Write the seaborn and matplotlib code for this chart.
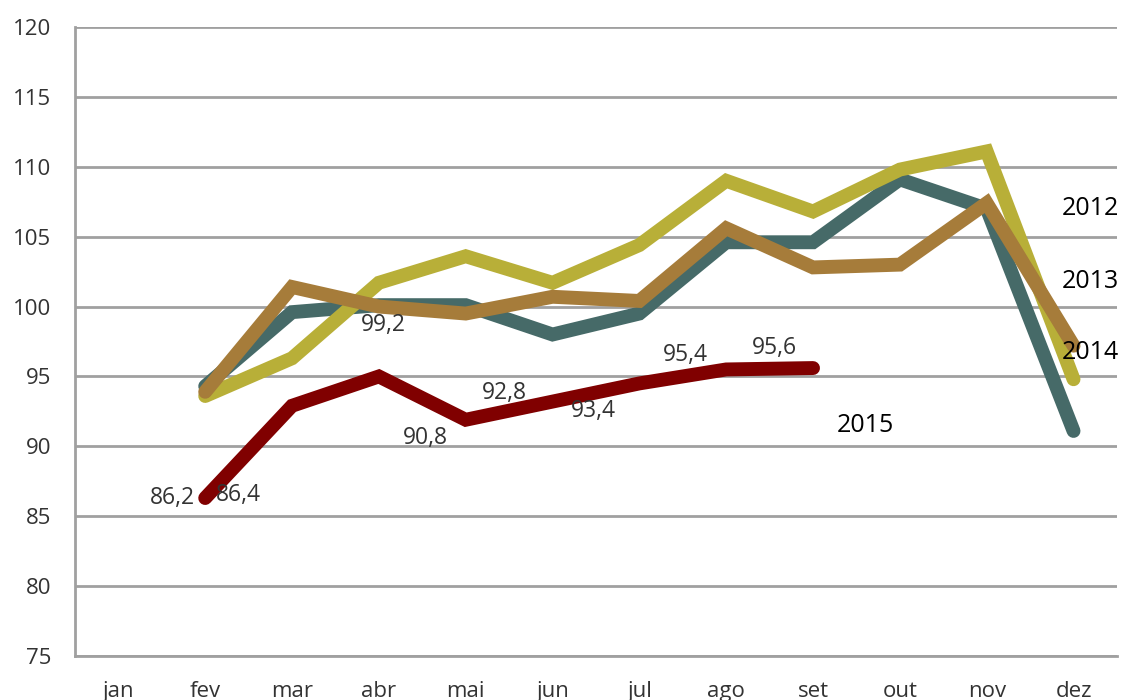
import pandas as pd
import numpy as np
import matplotlib.pyplot as plt
import seaborn as sns

# Months and series values
meses = ['jan', 'fev', 'mar', 'abr', 'mai', 'jun', 'jul', 'ago', 'set', 'out', 'nov', 'dez']
anos = ['2012', '2013', '2014', '2015']

v2012 = [np.nan, 94.3, 99.6, 100.1, 100.1, 98.0, 99.5, 104.6, 104.6, 109.1, 107.0, 91.1]
v2013 = [np.nan, 93.6, 96.3, 101.7, 103.6, 101.7, 104.4, 109.0, 106.8, 109.8, 111.1, 94.8]
v2014 = [np.nan, 93.9, 101.4, 100.0, 99.5, 100.7, 100.4, 105.6, 102.8, 103.0, 107.4, 97.2]
v2015 = [np.nan, 86.3, 92.9, 95.0, 91.9, 93.2, 94.5, 95.5, 95.6, np.nan, np.nan, np.nan]

cores = ['#466a68', '#b8af38', '#a67c3a', '#800000']

# Data labels drawn on the chart (text, x position in months, y value)
rotulos = ['86,2', '86,4', '99,2', '90,8', '92,8', '93,4', '95,4', '95,6']
rotulos_x = [0.62, 1.38, 3.05, 3.54, 4.44, 5.47, 6.53, 7.55]
rotulos_y = [86.3, 86.5, 98.7, 90.6, 93.8, 92.5, 96.5, 97.0]

# Series names placed at the right
nomes_x = [11.19, 11.19, 11.19, 8.6]
nomes_y = [107.0, 101.8, 96.7, 91.5]

# Long format table for seaborn
df = pd.DataFrame({
    'mes': np.tile(np.arange(len(meses)), len(anos)),
    'ano': np.repeat(anos, len(meses)),
    'valor': v2012 + v2013 + v2014 + v2015,
}).dropna()

sns.set_style('white')
plt.rcParams['font.family'] = ['Open Sans', 'DejaVu Sans']

fig = plt.figure(figsize=(11.22, 7), dpi=100)
ax = fig.add_axes([0.0668, 0.0629, 0.9287, 0.8985])

sns.lineplot(data=df, x='mes', y='valor', hue='ano', hue_order=anos,
             palette=cores, linewidth=10, legend=False, ax=ax,
             solid_capstyle='round', solid_joinstyle='miter')

ax.set_xlim(-0.5, 11.5)
ax.set_ylim(75, 120)
ax.set_yticks(np.arange(75, 121, 5))
ax.grid(axis='y', color='#a0a0a0', linewidth=2)
ax.set_axisbelow(True)

# month labels at centers, tick marks at the boundaries
ax.set_xticks(np.arange(len(meses)))
ax.set_xticklabels(meses)
ax.set_xticks(np.arange(-0.5, 12, 1), minor=True)
ax.tick_params(axis='x', which='major', length=0, labelsize=16, colors='#333333', pad=18)
ax.tick_params(axis='x', which='minor', length=8, width=2, color='#a0a0a0')
ax.tick_params(axis='y', length=8, width=2, color='#a0a0a0', labelsize=16,
               labelcolor='#333333', pad=9)
ax.set_xlabel('')
ax.set_ylabel('')

for s in ['top', 'right']:
    ax.spines[s].set_visible(False)
for s in ['left', 'bottom']:
    ax.spines[s].set_color('#a0a0a0')
    ax.spines[s].set_linewidth(2)

for t, x, y in zip(rotulos, rotulos_x, rotulos_y):
    ax.text(x, y, t, fontsize=16.5, color='#333333', ha='center', va='center')

for t, x, y in zip(anos, nomes_x, nomes_y):
    ax.text(x, y, t, fontsize=18, color='black', ha='center', va='center')

fig.savefig('out.png', dpi=100)
